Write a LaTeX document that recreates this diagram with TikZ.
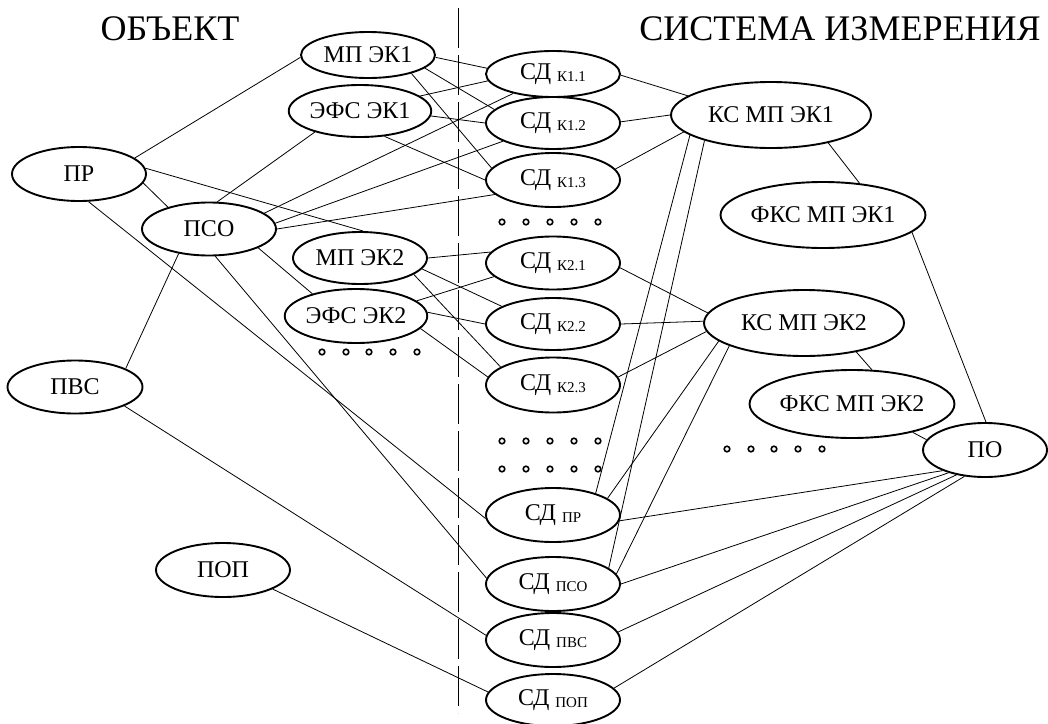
\documentclass[tikz,border=0pt]{standalone}
\usepackage{fontspec}
\setmainfont{Liberation Serif}
\newfontfamily\timesface{Liberation Serif}
\usetikzlibrary{shapes.geometric}
\tikzset{
  oval/.style={ellipse, draw, line width=1.9pt, inner sep=0pt,
    font=\timesface\fontsize{24}{26}\selectfont},
  sdnode/.style={oval, minimum width=134pt},
  link/.style={line width=0.8pt},
  divider/.style={line width=1pt, dash pattern=on 40pt off 7pt},
  ring/.style={line width=1.6pt},
  heading/.style={inner sep=0pt, font=\timesface\fontsize{36}{40}\selectfont},
}
\newcommand{\sdlabel}[1]{СД\hspace{6pt}\raisebox{-2.5pt}{\fontsize{15}{15}\selectfont #1}}
\begin{document}
\begin{tikzpicture}[x=1pt,y=1pt]
\useasboundingbox (0,0) rectangle (1048,-723);
\fill[white] (0,0) rectangle (1048,-723);

% headings
\node[heading] (tobj) at (170,-29) {ОБЪЕКТ};
\node[heading] (tsys) at (840,-29) {СИСТЕМА ИЗМЕРЕНИЯ};

% boundary between object and measuring system
\coordinate (divtop) at (458,-8);
\coordinate (divbot) at (458,-713);
\draw[divider] (divtop) -- (divbot);

% object side
\node[oval, minimum width=134pt, minimum height=54pt] (pr)   at (79,-174)  {ПР};
\node[oval, minimum width=134pt, minimum height=53pt] (pso)  at (209,-229) {ПСО};
\node[oval, minimum width=134pt, minimum height=46pt] (mp1)  at (368,-55)  {МП ЭК1};
\node[oval, minimum width=134pt, minimum height=52pt] (efs1) at (360,-111) {ЭФС ЭК1};
\node[oval, minimum width=134pt, minimum height=52pt] (mp2)  at (360,-258) {МП ЭК2};
\node[oval, minimum width=134pt, minimum height=54pt] (efs2) at (356,-316) {ЭФС ЭК2};
\node[oval, minimum width=135pt, minimum height=53pt] (pvs)  at (75,-387)  {ПВС};
\node[oval, minimum width=134pt, minimum height=54pt] (pop)  at (223,-570) {ПОП};

% sensors
\node[sdnode, minimum height=46pt] (k11)  at (553,-74)  {\sdlabel{К1.1}};
\node[sdnode, minimum height=52pt] (k12)  at (553,-123) {\sdlabel{К1.2}};
\node[sdnode, minimum height=54pt] (k13)  at (553,-180) {\sdlabel{К1.3}};
\node[sdnode, minimum height=53pt] (k21)  at (553,-263) {\sdlabel{К2.1}};
\node[sdnode, minimum height=52pt] (k22)  at (553,-324) {\sdlabel{К2.2}};
\node[sdnode, minimum height=55pt] (k23)  at (553,-385) {\sdlabel{К2.3}};
\node[sdnode, minimum height=54pt] (spr)  at (553,-515) {\sdlabel{ПР}};
\node[sdnode, minimum height=54pt] (spso) at (553,-584) {\sdlabel{ПСО}};
\node[sdnode, minimum height=54pt] (spvs) at (553,-640) {\sdlabel{ПВС}};
\node[sdnode, minimum height=52pt] (spop) at (553,-700) {\sdlabel{ПОП}};

% measuring system side
\node[oval, minimum width=200pt, minimum height=66pt] (ks1)  at (771,-115) {КС МП ЭК1};
\node[oval, minimum width=200pt, minimum height=66pt] (fks1) at (823,-215) {ФКС МП ЭК1};
\node[oval, minimum width=200pt, minimum height=66pt] (ks2)  at (804,-323) {КС МП ЭК2};
\node[oval, minimum width=200pt, minimum height=68pt] (fks2) at (852,-404) {ФКС МП ЭК2};
\node[oval, minimum width=124pt, minimum height=54pt] (po)   at (985,-450) {ПО};

% ellipsis rings
\foreach \x in {322,346,369,393,417} \draw[ring] (\x,-352) circle (2.8);
\foreach \y in {222,441,469}
  \foreach \x in {502,526,550,574,598} \draw[ring] (\x,-\y) circle (2.8);
\foreach \x in {727,751,774,798,822} \draw[ring] (\x,-449) circle (2.8);

% object links
\draw[link] (pr.16) -- (mp1.182);
\draw[link] (pr.-8) -- (pso.152);
\draw[link] (pr.5) -- (mp2.83);
\draw[link] (pr.-71) -- (spr.183);
\draw[link] (pso.73) -- (efs1.205);
\draw[link] (pso.16) -- (k11.206);
\draw[link] (pso.5) -- (k12.200);
\draw[link] (pso.0) -- (k13.194);
\draw[link] (mp1.-2) -- (k11.175);
\draw[link] (mp1.-13) -- (k12.167);
\draw[link] (mp1.-23) -- (k13.169);
\draw[link] (efs1.14) -- (k11.186);
\draw[link] (efs1.-4) -- (k12.180);
\draw[link] (efs1.-46) -- (k13.180);
\draw[link] (pso.-21) -- (efs2.153);
\draw[link] (pso.219) -- (pvs.20);
\draw[link] (pso.-77) -- (spso.175);
\draw[link] (pvs.-21) -- (spvs.176);
\draw[link] (pop.-21) -- (spop.173);
\draw[link] (mp2.0) -- (k21.170);
\draw[link] (mp2.-10) -- (k22.161);
\draw[link] (mp2.-17) -- (k23.161);
\draw[link] (efs2.14) -- (k21.193);
\draw[link] (efs2.3) -- (k22.180);
\draw[link] (efs2.-11) -- (k23.173);

% measuring system links
\draw[link] (k11.-1) -- (ks1.167);
\draw[link] (k12.1) -- (ks1.180);
\draw[link] (k13.10) -- (ks1.191);
\draw[link] (ks1.-26) -- (fks1.41);
\draw[link] (fks1.-11) -- (po.88);
\draw[link] (ks2.-29) -- (fks2.60);
\draw[link] (fks2.-25) -- (po.170);
\draw[link] (k21.-4) -- (ks2.174);
\draw[link] (k22.0) -- (ks2.179);
\draw[link] (k23.7) -- (ks2.185);
\draw[link] (ks1.194) -- (spr.27);
\draw[link] (ks1.201) -- (spso.16);
\draw[link] (ks2.192) -- (spr.17);
\draw[link] (ks2.197) -- (spso.9);
\draw[link] (po.206) -- (spr.-5);
\draw[link] (po.212) -- (spso.0);
\draw[link] (po.221) -- (spvs.7);
\draw[link] (po.232) -- (spop.11);
\end{tikzpicture}
\end{document}
